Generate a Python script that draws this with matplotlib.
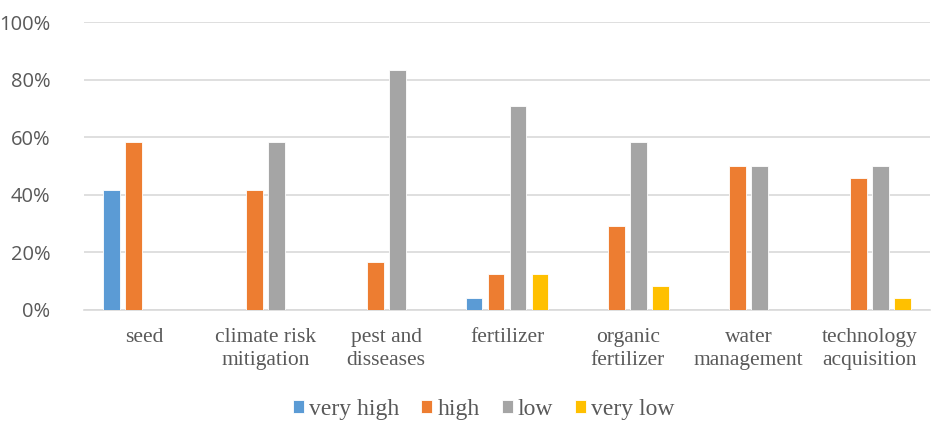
import numpy as np
import matplotlib.pyplot as plt
from matplotlib.ticker import PercentFormatter

categories = ["seed", "climate risk\nmitigation", "pest and\ndisseases", "fertilizer",
              "organic\nfertilizer", "water\nmanagement", "technology\nacquisition"]
series_names = ["very high", "high", "low", "very low"]
very_high = [41.67, 0, 0, 4.17, 0, 0, 0]
high = [58.33, 41.67, 16.67, 12.5, 29.17, 50.0, 45.83]
low = [0, 58.33, 83.33, 70.83, 58.33, 50.0, 50.0]
very_low = [0, 0, 0, 12.5, 8.33, 0, 4.17]
colors = ["#5b9bd5", "#ed7d31", "#a5a5a5", "#ffc000"]

fig = plt.figure(figsize=(9.32, 4.21), dpi=100)
ax = fig.add_axes([0.090, 0.2637, 0.908, 0.684])

x = np.arange(len(categories))
width = 0.14
step = 0.182
for i, (name, vals) in enumerate(zip(series_names, [very_high, high, low, very_low])):
    ax.bar(x + (i - 1.5) * step, vals, width, color=colors[i], label=name,
           edgecolor="white", linewidth=0.6, zorder=3)

ax.set_xlim(-0.5, len(categories) - 0.5)
ax.set_ylim(0, 100)
ax.set_yticks(np.arange(0, 101, 20))
ax.yaxis.set_major_formatter(PercentFormatter(decimals=0))
ax.grid(axis="y", color="#d9d9d9", linewidth=1.2, zorder=0)
for s in ["top", "right", "left"]:
    ax.spines[s].set_visible(False)
ax.spines["bottom"].set_color("#d9d9d9")
ax.spines["bottom"].set_linewidth(1.2)
ax.tick_params(axis="both", length=0)
ax.tick_params(axis="y", labelsize=14.5, labelcolor="#595959", pad=24)
for lab in ax.get_yticklabels():
    lab.set_family("Open Sans")

ax.set_xticks(x)
ax.set_xticklabels(categories, family="Liberation Serif", fontsize=15.5,
                   color="#595959", linespacing=1.25)
ax.tick_params(axis="x", pad=13)

leg = fig.legend(loc="center", bbox_to_anchor=(0.519, 0.028), ncol=4, frameon=False,
                 prop={"family": "Liberation Serif", "size": 17},
                 handlelength=0.47, handleheight=0.47, handletextpad=0.22,
                 columnspacing=0.93)
for t in leg.get_texts():
    t.set_color("#595959")

fig.savefig("out.png", dpi=100)
